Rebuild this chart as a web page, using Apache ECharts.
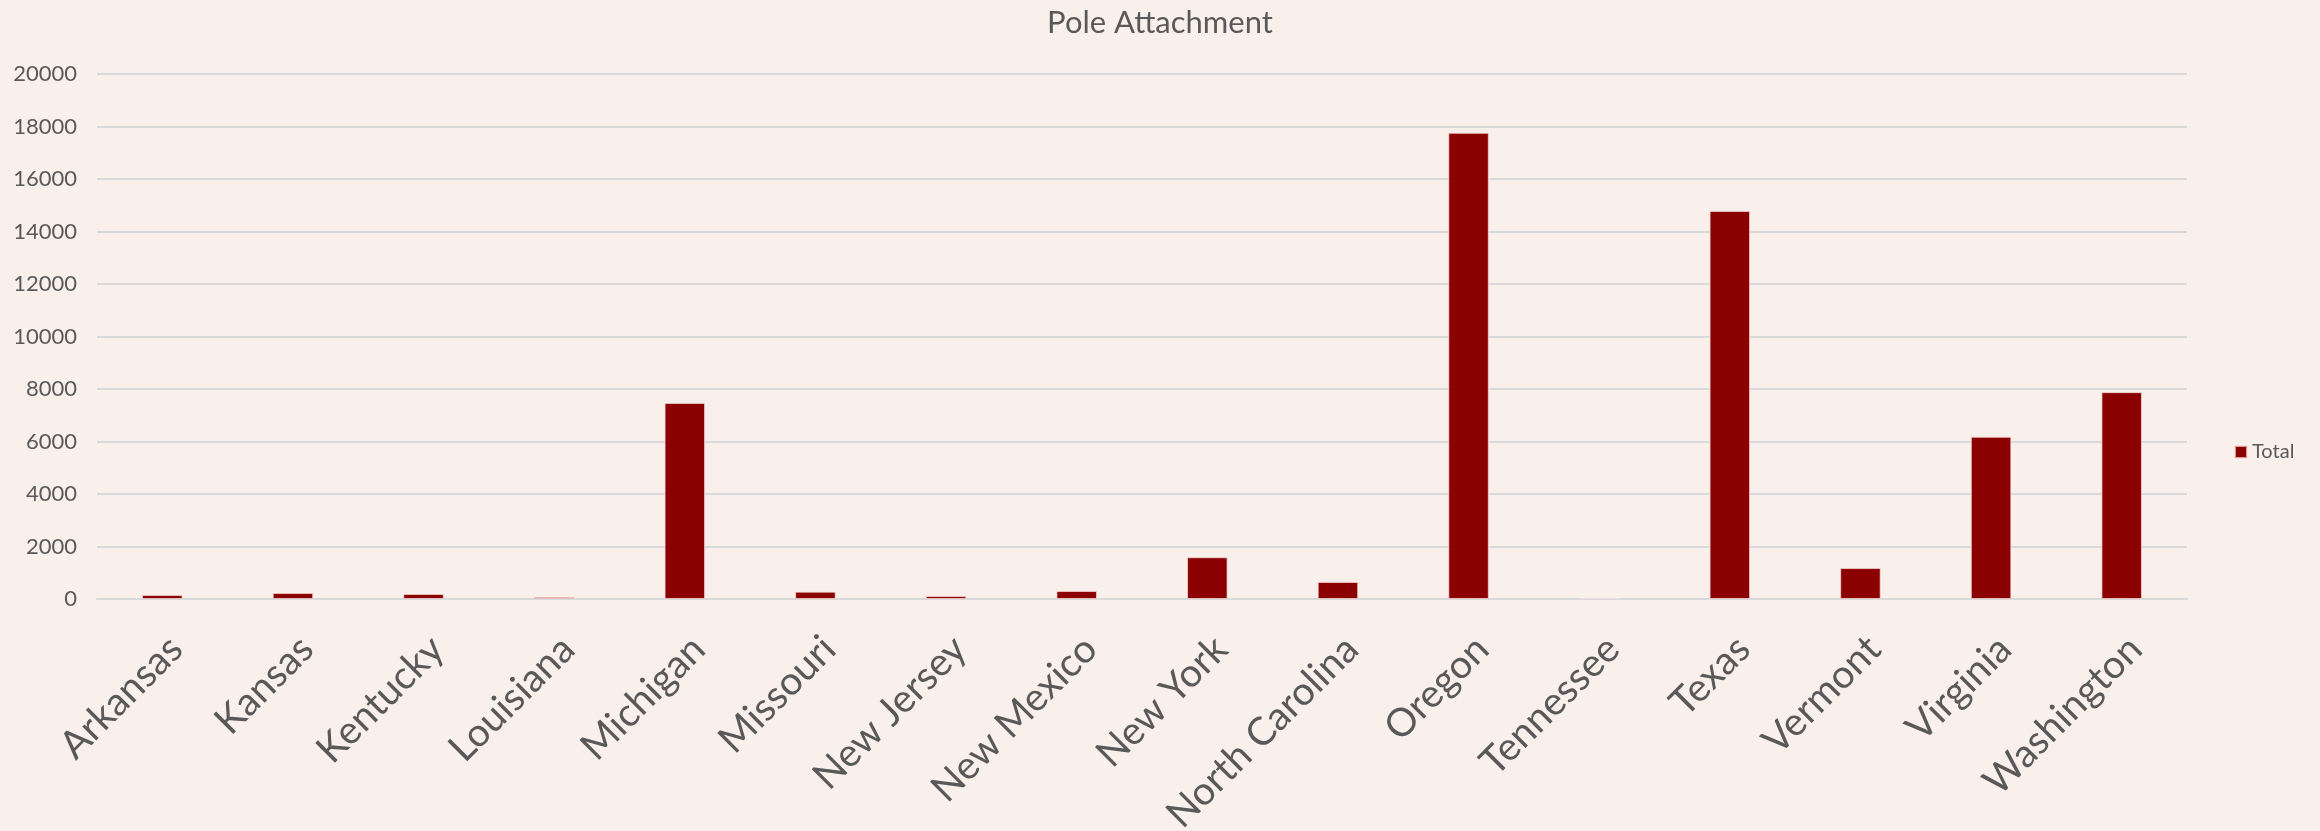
<!DOCTYPE html>
<html>
<head>
<meta charset="utf-8">
<title>Pole Attachment</title>
<script src="https://cdn.jsdelivr.net/npm/echarts@6/dist/echarts.min.js"></script>
<style>
  html, body { margin: 0; padding: 0; background: #FAF0EB; }
  #chart { width: 2320px; height: 831px; }
</style>
</head>
<body>
<div id="chart"></div>
<script>
const STATES = [
  'Arkansas', 'Kansas', 'Kentucky', 'Louisiana', 'Michigan', 'Missouri',
  'New Jersey', 'New Mexico', 'New York', 'North Carolina', 'Oregon',
  'Tennessee', 'Texas', 'Vermont', 'Virginia', 'Washington',
];
const TOTALS = [
  150, 230, 190, 75, 7470, 280,
  115, 305, 1590, 650, 17760,
  35, 14780, 1180, 6180, 7880,
];
const Y_MIN = 0;
const Y_MAX = 20000;
const Y_STEP = 2000;

const FONT = 'Lato, "Noto Sans", sans-serif';
const TEXT_COLOR = '#595959';
const GRID_COLOR = '#D9D9D9';
const BAR_COLOR = '#8B0000';

const chart = echarts.init(document.getElementById('chart'));

chart.setOption({
  backgroundColor: '#FAF0EB',
  animation: false,
  textStyle: { fontFamily: FONT, color: TEXT_COLOR },
  title: {
    text: 'Pole Attachment',
    left: 'center',
    top: 2,
    textStyle: { fontFamily: FONT, fontSize: 31, fontWeight: 'normal', color: TEXT_COLOR },
  },
  legend: {
    orient: 'vertical',
    left: 2229,
    top: 437,
    itemWidth: 12,
    itemHeight: 12,
    icon: 'rect',
    textStyle: { fontFamily: FONT, fontSize: 20, color: TEXT_COLOR },
    data: ['Total'],
  },
  // labels run to the bottom edge; keep the plot box fixed anyway
  grid: { left: 97, right: 133, top: 74, bottom: 232, outerBoundsMode: 'none' },
  xAxis: {
    type: 'category',
    data: STATES,
    axisLine: { show: true, lineStyle: { color: GRID_COLOR, width: 2 } },
    axisTick: { show: false },
    axisLabel: {
      interval: 0,
      rotate: 45,
      align: 'right',
      verticalAlign: 'top',
      margin: 30,
      fontFamily: FONT,
      fontSize: 39,
      color: TEXT_COLOR,
    },
  },
  yAxis: {
    type: 'value',
    min: Y_MIN,
    max: Y_MAX,
    interval: Y_STEP,
    axisLine: { show: false },
    axisTick: { show: false },
    splitLine: { lineStyle: { color: GRID_COLOR, width: 2 } },
    axisLabel: {
      margin: 20,
      fontFamily: FONT,
      fontSize: 22,
      color: TEXT_COLOR,
      formatter: v => String(v),
    },
  },
  series: [{
    name: 'Total',
    type: 'bar',
    data: TOTALS,
    barWidth: '31%',
    itemStyle: {
      color: BAR_COLOR,
      borderColor: 'rgba(250,220,220,0.7)',
      borderWidth: 1,
    },
  }],
});
</script>
</body>
</html>
